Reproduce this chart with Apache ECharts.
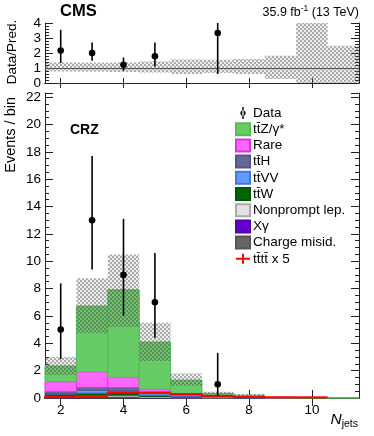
<!DOCTYPE html>
<html>
<head>
<meta charset="UTF-8">
<title>CRZ Njets</title>
<script src="https://cdn.jsdelivr.net/npm/echarts@6/dist/echarts.min.js"></script>
<style>
html, body { margin: 0; padding: 0; background: #fff; }
#chart { width: 374px; height: 436px; }
</style>
</head>
<body>
<div id="chart"></div>
<script>
// bin centres (N jets)
var bins = [2, 3, 4, 5, 6, 7, 8, 9, 10, 11];

// stacked predictions, events / bin
var chargeMisid = [0.02, 0.05, 0.05, 0.01, 0.01, 0, 0, 0, 0, 0];
var xGamma      = [0.05, 0.04, 0.04, 0.03, 0.01, 0, 0, 0, 0, 0];
var nonprompt   = [0.12, 0.12, 0.12, 0.07, 0.04, 0.01, 0, 0, 0, 0];
var ttW         = [0.10, 0.15, 0.18, 0.08, 0.04, 0.02, 0.01, 0, 0, 0];
var ttVV        = [0.05, 0.20, 0.12, 0.12, 0.05, 0.02, 0.01, 0, 0, 0];
var ttH         = [0.12, 0.22, 0.25, 0.06, 0.05, 0.01, 0.01, 0, 0, 0];
var rare        = [0.73, 1.14, 0.75, 0.27, 0.10, 0.03, 0.02, 0.005, 0, 0];
var ttZ         = [1.15, 4.80, 6.40, 3.45, 1.00, 0.25, 0.15, 0.02, 0.01, 0.01];
// signal x 5 (line)
var tttt5       = [0.08, 0.15, 0.40, 0.40, 0.30, 0.15, 0.08, 0.05, 0.05, 0];

// total prediction uncertainty band
var uncLo = [1.68, 4.74, 5.20, 2.70, 0.90, 0.20, 0.10, 0.005, 0, 0];
var uncHi = [3.00, 8.76, 10.5, 5.50, 1.80, 0.46, 0.30, 0.05, 0.08, 0.03];

// observed data with errors
var dataCounts = [5, 13, 9, 7, 0, 1, 0, 0, 0, 0];
var dataLo     = [2.84, 9.40, 6.00, 4.40, 0, 0.17, 0, 0, 0, 0];
var dataHi     = [8.38, 17.7, 13.1, 10.6, 0, 3.30, 0, 0, 0, 0];

// ratio panel
var ratio      = [2.17, 2.00, 1.22, 1.78, 0, 3.33, 0, 0, 0, 0];
var ratioLo    = [1.33, 1.49, 0.82, 1.10, 0, 0.60, 0, 0, 0, 0];
var ratioHi    = [3.55, 2.70, 1.70, 2.70, 0, 4.50, 0, 0, 0, 0];
var ratioUncLo = [0.77, 0.76, 0.73, 0.70, 0.60, 0.67, 0.60, 0.27, 0, 0];
var ratioUncHi = [1.37, 1.36, 1.36, 1.44, 1.57, 1.55, 1.60, 1.82, 4.2, 2.48];

var xTickValues = [2, 4, 6, 8, 10];

var FONT = '"Liberation Sans", Arial, Helvetica, sans-serif';

// cross-hatch for uncertainty
var hc = document.createElement('canvas');
hc.width = 4; hc.height = 4;
var g = hc.getContext('2d');
g.fillStyle = 'rgba(70,70,70,0.45)';
g.fillRect(0, 0, 2, 2); g.fillRect(2, 2, 2, 2);
g.fillStyle = 'rgba(160,160,160,0.2)';
g.fillRect(2, 0, 2, 2); g.fillRect(0, 2, 2, 2);
var hatch = { image: hc, repeat: 'repeat' };

var myChart = echarts.init(document.getElementById('chart'));

function binRect(params, api) {
  var x = api.value(0), y0 = api.value(1), y1 = api.value(2);
  if (y1 - y0 <= 0) return null;
  var p0 = api.coord([x - 0.5, y1]);
  var p1 = api.coord([x + 0.5, y0]);
  return {
    type: 'rect',
    shape: { x: p0[0], y: p0[1], width: p1[0] - p0[0], height: p1[1] - p0[1] },
    style: api.style()
  };
}

function bandRect(params, api) {
  var x = api.value(0), lo = api.value(1), hi = api.value(2);
  if (hi - lo <= 0) return null;
  var p0 = api.coord([x - 0.5, hi]);
  var p1 = api.coord([x + 0.5, lo]);
  return {
    type: 'rect',
    shape: { x: p0[0], y: p0[1], width: p1[0] - p0[0], height: p1[1] - p0[1] },
    style: { fill: hatch, stroke: null }
  };
}

function errPoint(params, api) {
  var x = api.value(0);
  var c = api.coord([x, api.value(1)]);
  var lo = api.coord([x, api.value(2)]);
  var hi = api.coord([x, api.value(3)]);
  return {
    type: 'group',
    children: [
      { type: 'line', shape: { x1: c[0], y1: lo[1], x2: c[0], y2: hi[1] },
        style: { stroke: '#000', lineWidth: 1.6 } },
      { type: 'circle', shape: { cx: c[0], cy: c[1], r: 3.3 },
        style: { fill: '#000' } }
    ]
  };
}

function stepLine(params, api) {
  var x = api.value(0), v = api.value(1), prev = api.value(2);
  if (v <= 0) return null;
  var a = api.coord([x - 0.5, prev]);
  var b = api.coord([x - 0.5, v]);
  var c = api.coord([x + 0.5, v]);
  return {
    type: 'polyline',
    shape: { points: [a, b, c] },
    style: { stroke: '#ff0000', lineWidth: 2, fill: null }
  };
}

// stack, bottom first
var stackDefs = [
  { name: 'Charge misid.',       vals: chargeMisid, color: '#666666', border: '#555555' },
  { name: 'X\u03b3',             vals: xGamma,      color: '#6600cc', border: '#5500aa' },
  { name: 'Nonprompt lep.',      vals: nonprompt,   color: '#e2e2e2', border: '#aaaaaa' },
  { name: 'tt\u0304W',           vals: ttW,         color: '#006600', border: '#005500' },
  { name: 'tt\u0304VV',          vals: ttVV,        color: '#6699ff', border: '#4477dd' },
  { name: 'tt\u0304H',           vals: ttH,         color: '#666699', border: '#555588' },
  { name: 'Rare',                vals: rare,        color: '#ff66ff', border: '#dd33dd' },
  { name: 'tt\u0304Z/\u03b3*',   vals: ttZ,         color: '#66cc66', border: '#55bb55' }
];

var series = [];
var cum = bins.map(function () { return 0; });
stackDefs.forEach(function (d) {
  var rows = bins.map(function (b, i) {
    var y0 = cum[i];
    cum[i] = y0 + d.vals[i];
    return [b, y0, cum[i]];
  });
  series.push({
    name: d.name, type: 'custom', xAxisIndex: 2, yAxisIndex: 2,
    renderItem: binRect,
    itemStyle: { color: d.color, borderColor: d.border, borderWidth: 1 },
    data: rows, z: 2
  });
});

series.push({
  name: 'band', type: 'custom', xAxisIndex: 2, yAxisIndex: 2,
  renderItem: bandRect, z: 3,
  data: bins.map(function (b, i) { return [b, uncLo[i], uncHi[i]]; })
});

series.push({
  name: 'tt\u0304tt\u0304 x 5', type: 'custom', xAxisIndex: 2, yAxisIndex: 2,
  renderItem: stepLine, z: 4,
  itemStyle: { color: '#ff0000' },
  data: bins.map(function (b, i) { return [b, tttt5[i], i > 0 ? tttt5[i - 1] : 0]; })
});

var dataRows = [];
bins.forEach(function (b, i) {
  if (dataCounts[i] > 0) dataRows.push([b, dataCounts[i], dataLo[i], dataHi[i]]);
});
series.push({
  name: 'Data', type: 'custom', xAxisIndex: 2, yAxisIndex: 2,
  renderItem: errPoint, z: 5, itemStyle: { color: '#000' },
  data: dataRows
});

// ratio panel
series.push({
  name: 'ratioBand', type: 'custom', xAxisIndex: 0, yAxisIndex: 0,
  renderItem: bandRect, z: 3, clip: true,
  data: bins.map(function (b, i) { return [b, ratioUncLo[i], ratioUncHi[i]]; }),
  markLine: {
    silent: true, symbol: 'none', label: { show: false },
    lineStyle: { color: '#555', width: 1, type: 'solid' },
    data: [{ yAxis: 1 }]
  }
});
var ratioRows = [];
bins.forEach(function (b, i) {
  if (dataCounts[i] > 0) ratioRows.push([b, ratio[i], ratioLo[i], ratioHi[i]]);
});
series.push({
  name: 'ratioData', type: 'custom', xAxisIndex: 0, yAxisIndex: 0,
  renderItem: errPoint, z: 5, clip: true,
  data: ratioRows
});

var axLine = { show: true, lineStyle: { color: '#222', width: 1 } };

function xAx(grid, pos, labels) {
  return {
    type: 'value', gridIndex: grid, position: pos, min: 1.5, max: 11.5,
    axisLine: axLine, splitLine: { show: false },
    axisTick: { show: true, inside: true, length: grid === 0 ? 5 : 8,
      customValues: xTickValues, lineStyle: { color: '#222' } },
    axisLabel: { show: labels, customValues: xTickValues, margin: 5,
      fontFamily: FONT, fontSize: 13.5, color: '#000' }
  };
}

function yAx(grid, pos, labels, max, interval, minorSplit) {
  return {
    type: 'value', gridIndex: grid, position: pos, min: 0, max: max, interval: interval,
    axisLine: axLine, splitLine: { show: false },
    axisTick: { show: true, inside: true, length: 8, lineStyle: { color: '#222' } },
    minorTick: { show: true, splitNumber: minorSplit, length: 4, lineStyle: { color: '#222' } },
    axisLabel: { show: labels, showMaxLabel: grid === 0, margin: 4,
      fontFamily: FONT, fontSize: 13.5, color: '#000' }
  };
}

var option = {
  animation: false,
  backgroundColor: '#fff',
  grid: [
    { left: 45, right: 15, top: 23, height: 60 },
    { left: 45, right: 15, top: 93, height: 305 }
  ],
  xAxis: [
    xAx(0, 'bottom', false), xAx(0, 'top', false),
    xAx(1, 'bottom', true), xAx(1, 'top', false)
  ],
  yAxis: [
    yAx(0, 'left', true, 4, 1, 5),
    yAx(0, 'right', false, 4, 1, 5),
    yAx(1, 'left', true, 22.3, 2, 4),
    yAx(1, 'right', false, 22.3, 2, 4)
  ],
  legend: {
    orient: 'vertical', left: 235, top: 106, padding: 0,
    itemWidth: 14, itemHeight: 12, itemGap: 2.2,
    selectedMode: false,
    textStyle: { fontFamily: FONT, fontSize: 13.5, color: '#000', padding: [0, 0, 0, -2] },
    data: [
      { name: 'Data', icon: 'path://M6.3,0h1.4v12h-1.4z M4.4,6a2.6,2.6 0 1,0 5.2,0a2.6,2.6 0 1,0 -5.2,0z' },
      { name: 'tt\u0304Z/\u03b3*', icon: 'rect' },
      { name: 'Rare', icon: 'rect' },
      { name: 'tt\u0304H', icon: 'rect' },
      { name: 'tt\u0304VV', icon: 'rect' },
      { name: 'tt\u0304W', icon: 'rect' },
      { name: 'Nonprompt lep.', icon: 'rect' },
      { name: 'X\u03b3', icon: 'rect' },
      { name: 'Charge misid.', icon: 'rect' },
      { name: 'tt\u0304tt\u0304 x 5', icon: 'path://M0,5h14v2h-14z M6,1h2v10h-2z' }
    ]
  },
  graphic: [
    { type: 'text', left: 60, top: 3,
      style: { text: 'CMS', font: 'bold 16.5px ' + FONT, fill: '#000' } },
    { type: 'text', right: 15, top: 4,
      style: {
        text: '{a|35.9 fb}{s|-1}{a| (13 TeV)}',
        rich: {
          a: { fontFamily: FONT, fontSize: 12.5, fill: '#000', lineHeight: 15, verticalAlign: 'bottom' },
          s: { fontFamily: FONT, fontSize: 8.5, fill: '#000', lineHeight: 15, verticalAlign: 'top' }
        }
      } },
    { type: 'text', x: 12, y: 52, rotation: Math.PI / 2,
      style: { text: 'Data/Pred.', font: '13.5px ' + FONT, fill: '#000', align: 'center', verticalAlign: 'middle' } },
    { type: 'text', x: 11, y: 97, rotation: Math.PI / 2,
      style: { text: 'Events / bin', font: '14.5px ' + FONT, fill: '#000', align: 'right', verticalAlign: 'middle' } },
    { type: 'text', left: 70, top: 123,
      style: { text: 'CRZ', font: 'bold 14px ' + FONT, fill: '#000' } },
    { type: 'text', right: 16, top: 412,
      style: {
        text: '{n|N}{s|jets}',
        rich: {
          n: { fontFamily: FONT, fontStyle: 'italic', fontSize: 15.5, fill: '#000', lineHeight: 18, verticalAlign: 'top' },
          s: { fontFamily: FONT, fontSize: 10.5, fill: '#000', lineHeight: 18, verticalAlign: 'bottom' }
        }
      } }
  ],
  series: series
};
myChart.setOption(option);
</script>
</body>
</html>
